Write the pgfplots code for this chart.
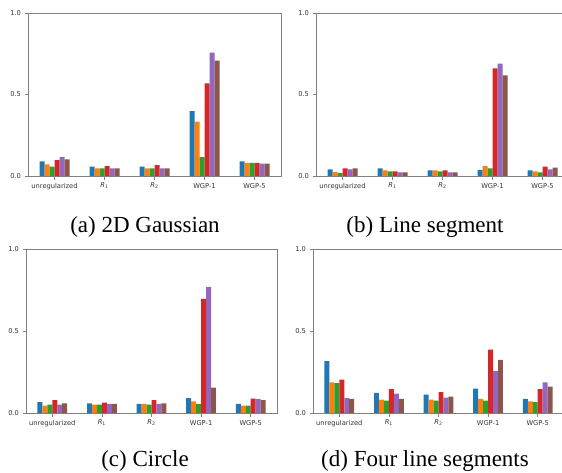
\documentclass[border=0pt]{standalone}
\usepackage{fontspec}
\setmainfont{Liberation Serif}
\newfontfamily\dejavu{DejaVu Sans}
\usepackage{pgfplots}
\usepackage{pgfplotstable}
\pgfplotsset{compat=1.18}

\definecolor{c1}{HTML}{1F77B4}
\definecolor{c2}{HTML}{FF7F0E}
\definecolor{c3}{HTML}{2CA02C}
\definecolor{c4}{HTML}{D62728}
\definecolor{c5}{HTML}{9467BD}
\definecolor{c6}{HTML}{8C564B}
\definecolor{spine}{gray}{0.5}

% columns: group position, then the six methods
\pgfplotstableread{
x   s1    s2    s3    s4    s5    s6
0   0.090 0.071 0.057 0.098 0.116 0.102
1   0.057 0.047 0.047 0.061 0.047 0.047
2   0.057 0.047 0.047 0.067 0.047 0.047
3   0.398 0.333 0.116 0.569 0.757 0.708
4   0.090 0.080 0.080 0.080 0.076 0.076
}\tabA
\pgfplotstableread{
x   s1    s2    s3    s4    s5    s6
0   0.041 0.024 0.018 0.047 0.041 0.047
1   0.047 0.035 0.029 0.029 0.022 0.022
2   0.035 0.035 0.029 0.035 0.022 0.022
3   0.037 0.061 0.047 0.661 0.690 0.618
4   0.035 0.029 0.022 0.057 0.041 0.051
}\tabB
\pgfplotstableread{
x   s1    s2    s3    s4    s5    s6
0   0.067 0.045 0.051 0.078 0.051 0.059
1   0.059 0.051 0.051 0.063 0.055 0.055
2   0.055 0.055 0.051 0.078 0.055 0.059
3   0.090 0.071 0.055 0.696 0.769 0.155
4   0.055 0.045 0.045 0.088 0.084 0.078
}\tabC
\pgfplotstableread{
x   s1    s2    s3    s4    s5    s6
0   0.316 0.186 0.182 0.204 0.090 0.086
1   0.122 0.082 0.076 0.145 0.118 0.086
2   0.112 0.082 0.076 0.127 0.094 0.100
3   0.149 0.086 0.076 0.386 0.255 0.324
4   0.086 0.071 0.067 0.145 0.186 0.161
}\tabD

\pgfplotsset{
  panel/.style={
    scale only axis,
    xmin=-0.53, xmax=4.53, ymin=0, ymax=1,
    xtick={0,1,2,3,4},
    xticklabels={unregularized,{{\itshape R}\textsubscript{1}},{{\itshape R}\textsubscript{2}},WGP-1,WGP-5},
    ytick={0,0.5,1},
    yticklabel style={/pgf/number format/.cd, fixed, fixed zerofill, precision=1},
    /pgf/number format/assume math mode=true,
    ticklabel style={font=\dejavu\fontsize{6.7}{8}\selectfont, text=black!80},
    tick align=outside, xtick pos=left, ytick pos=left,
    major tick length=3.5pt,
    tick style={spine, line width=0.7pt},
    axis line style={spine, line width=0.7pt},
  },
  bars/.style={ybar, bar width=0.1, draw=none, fill=#1},
}

\newcommand\sixbars[1]{%
  \addplot[bars=c1, bar shift=-0.25] table[x=x, y=s1] {#1};
  \addplot[bars=c2, bar shift=-0.15] table[x=x, y=s2] {#1};
  \addplot[bars=c3, bar shift=-0.05] table[x=x, y=s3] {#1};
  \addplot[bars=c4, bar shift=0.05] table[x=x, y=s4] {#1};
  \addplot[bars=c5, bar shift=0.15] table[x=x, y=s5] {#1};
  \addplot[bars=c6, bar shift=0.25] table[x=x, y=s6] {#1};
}

\begin{document}
\begin{tikzpicture}
\useasboundingbox (0,0) rectangle (562pt,472pt);
\clip (0,0) rectangle (562pt,472pt);

% (a)
\begin{axis}[panel, at={(28pt,296pt)}, anchor=south west, width=253pt, height=163pt]
\sixbars{\tabA}
\end{axis}
% (b)
\begin{axis}[panel, at={(316pt,296pt)}, anchor=south west, width=253pt, height=163pt]
\sixbars{\tabB}
\end{axis}
% (c)
\begin{axis}[panel, at={(26pt,59pt)}, anchor=south west, width=251pt, height=164pt]
\sixbars{\tabC}
\end{axis}
% (d)
\begin{axis}[panel, at={(313pt,59pt)}, anchor=south west, width=251pt, height=164pt]
\sixbars{\tabD}
\end{axis}

\begin{scope}[every node/.style={font=\fontsize{23}{28}\selectfont, anchor=base, inner sep=0pt}]
\node at (145pt,240pt) {(a) 2D Gaussian};
\node at (425pt,240pt) {(b) Line segment};
\node at (145pt,6pt) {(c) Circle};
\node at (425pt,6pt) {(d) Four line segments};
\end{scope}
\end{tikzpicture}
\end{document}
